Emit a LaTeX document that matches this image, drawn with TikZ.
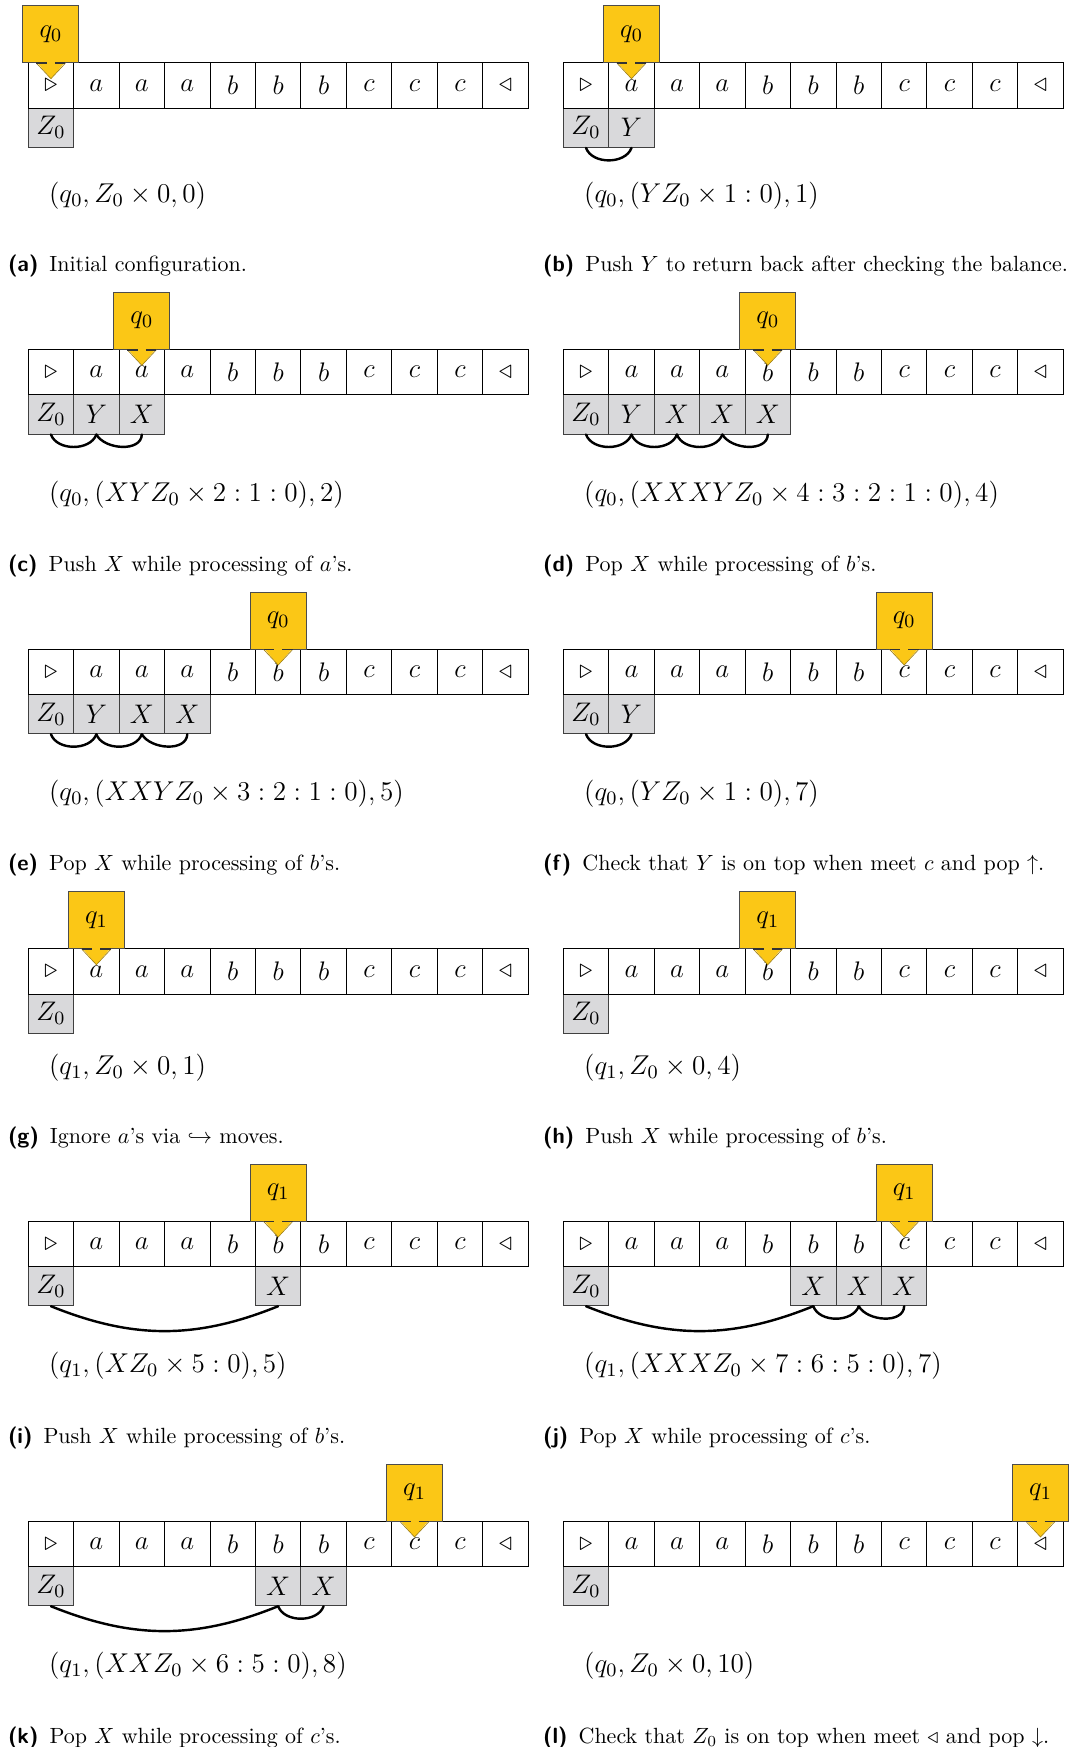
\RequirePackage{fix-cm}
\documentclass[tikz,border=0pt]{standalone}
\usetikzlibrary{calc}
\definecolor{headyellow}{RGB}{251,199,22}
\definecolor{stackgray}{RGB}{217,217,219}
\def\xL{28.2}\def\cwL{45.45}
\def\xR{563.3}\def\cwR{45.45}
\newcommand\setside[1]{\edef\PX{\csname x#1\endcsname}\edef\PCW{\csname cw#1\endcsname}}
\tikzset{
 tapecell/.style={draw=black, line width=0.45pt, minimum width=\PCW*0.4545pt, minimum height=20.68pt, inner sep=0pt, font=\fontsize{12.2}{15}\selectfont},
 stackcell/.style={draw=black!75, fill=stackgray, line width=0.45pt, minimum width=\PCW*0.4545pt, minimum height=17.82pt, inner sep=0pt, font=\fontsize{12.2}{15}\selectfont},
 headbox/.style={draw=black!70, fill=headyellow, line width=0.45pt, minimum width=25.45pt, minimum height=25.9pt, inner sep=0pt, font=\fontsize{12.2}{15}\selectfont},
 tipedge/.style={draw=headyellow!65!black, line width=0.3pt},
 headseg/.style={draw=black!80, line width=0.9pt},
 link/.style={draw=black, line width=1.1pt, line cap=round},
 cfgnode/.style={anchor=west, inner sep=0pt, font=\fontsize{12.35}{15}\selectfont},
 capnode/.style={anchor=base west, inner sep=0pt},
}
\newcommand\PTape[2]{%
  \foreach \s [count=\i from 0] in {\triangleright,a,a,a,b,b,b,c,c,c,\triangleleft}
    \node[tapecell] (#1t\i) at ({\PX+(\i+0.5)*\PCW}, {-(#2+22.75)}) {$\s$};
}
\newcommand\PStk[4]{%
  \node[stackcell] (#1s#3) at ({\PX+(#3+0.5)*\PCW}, {-(#2+65.1)}) {$#4$};
}
\newcommand\PHead[4]{%
  \node[headbox] (#1h) at ({\PX+(#3+0.5)*\PCW}, {-(#2-28.5)}) {$#4$};
  \fill[headyellow] ($(#1h.south)+(-14.5,1.5)$) -- ($(#1h.south)+(14.5,1.5)$) -- ($(#1h.south)+(0,-15.5)$) -- cycle;
  \draw[tipedge] ($(#1h.south)+(-14.5,0)$) -- ($(#1h.south)+(0,-15.5)$) -- ($(#1h.south)+(14.5,0)$);
  \draw[headseg] ($(#1h.south)+(-14.5,0)$) -- ($(#1h.south)+(-4,0)$) ($(#1h.south)+(4,0)$) -- ($(#1h.south)+(14.5,0)$);
}
\newcommand\PCfg[3]{\node[cfgnode] (#1c) at ({\PX+20.5}, {-#2}) {$#3$};}
\newcommand\PCap[4]{\node[capnode] (#1cap) at ({\PX-20.6}, {-#2}) {\textsf{\textbf{#3}}\hspace{5pt}#4};}
\newcommand\PLink[2]{\draw[link] (#1.south) to[out=-70,in=-110] (#2.south);}
\newcommand\PHook[2]{\draw[link] (#1.south) to[out=-60,in=-92] (#2.south);}
\newcommand\PBig[2]{\draw[link] (#1.south) to[out=-22,in=-158] (#2.south);}
\begin{document}
\begin{tikzpicture}[x=0.4545pt,y=0.4545pt]
\useasboundingbox (0,0) rectangle (1075,-1747);
\fill[white] (0,0) rectangle (1075,-1747);

% (a)
\setside{L}
\PStk{a}{62.7}{0}{Z_0}
\PTape{a}{62.7}
\PHead{a}{62.7}{0}{q_0}
\PCfg{a}{196}{\bigl(q_0, Z_0 \times 0, 0\bigr)}
\PCap{a}{271.5}{(a)}{Initial configuration.}

% (b)
\setside{R}
\PStk{b}{62.7}{0}{Z_0}
\PStk{b}{62.7}{1}{Y}
\PTape{b}{62.7}
\PHead{b}{62.7}{1}{q_0}
\PLink{bs0}{bs1}
\PCfg{b}{196}{\bigl(q_0, (YZ_0 \times 1 : 0), 1\bigr)}
\PCap{b}{271.5}{(b)}{Push $Y$ to return back after checking the balance.}

% (c)
\setside{L}
\PStk{c}{349.3}{0}{Z_0}
\PStk{c}{349.3}{1}{Y}
\PStk{c}{349.3}{2}{X}
\PTape{c}{349.3}
\PHead{c}{349.3}{2}{q_0}
\PLink{cs0}{cs1}
\PHook{cs1}{cs2}
\PCfg{c}{494.7}{\bigl(q_0, (XYZ_0 \times 2 : 1 : 0), 2\bigr)}
\PCap{c}{571}{(c)}{Push $X$ while processing of $a$'s.}

% (d)
\setside{R}
\PStk{d}{349.3}{0}{Z_0}
\PStk{d}{349.3}{1}{Y}
\PStk{d}{349.3}{2}{X}
\PStk{d}{349.3}{3}{X}
\PStk{d}{349.3}{4}{X}
\PTape{d}{349.3}
\PHead{d}{349.3}{4}{q_0}
\PLink{ds0}{ds1}
\PLink{ds1}{ds2}
\PLink{ds2}{ds3}
\PHook{ds3}{ds4}
\PCfg{d}{494.7}{\bigl(q_0, (XXXYZ_0 \times 4 : 3 : 2 : 1 : 0), 4\bigr)}
\PCap{d}{571}{(d)}{Pop $X$ while processing of $b$'s.}

% (e)
\setside{L}
\PStk{e}{649}{0}{Z_0}
\PStk{e}{649}{1}{Y}
\PStk{e}{649}{2}{X}
\PStk{e}{649}{3}{X}
\PTape{e}{649}
\PHead{e}{649}{5}{q_0}
\PLink{es0}{es1}
\PLink{es1}{es2}
\PHook{es2}{es3}
\PCfg{e}{793.8}{\bigl(q_0, (XXYZ_0 \times 3 : 2 : 1 : 0), 5\bigr)}
\PCap{e}{870}{(e)}{Pop $X$ while processing of $b$'s.}

% (f)
\setside{R}
\PStk{f}{649}{0}{Z_0}
\PStk{f}{649}{1}{Y}
\PTape{f}{649}
\PHead{f}{649}{7}{q_0}
\PLink{fs0}{fs1}
\PCfg{f}{793.8}{\bigl(q_0, (YZ_0 \times 1 : 0), 7\bigr)}
\PCap{f}{870}{(f)}{Check that $Y$ is on top when meet $c$ and pop $\uparrow$.}

% (g)
\setside{L}
\PStk{g}{948.7}{0}{Z_0}
\PTape{g}{948.7}
\PHead{g}{948.7}{1}{q_1}
\PCfg{g}{1067.7}{\bigl(q_1, Z_0 \times 0, 1\bigr)}
\PCap{g}{1143.3}{(g)}{Ignore $a$'s via $\hookrightarrow$ moves.}

% (h)
\setside{R}
\PStk{h}{948.7}{0}{Z_0}
\PTape{h}{948.7}
\PHead{h}{948.7}{4}{q_1}
\PCfg{h}{1067.7}{\bigl(q_1, Z_0 \times 0, 4\bigr)}
\PCap{h}{1143.3}{(h)}{Push $X$ while processing of $b$'s.}

% (i)
\setside{L}
\PStk{i}{1221}{0}{Z_0}
\PStk{i}{1221}{5}{X}
\PTape{i}{1221}
\PHead{i}{1221}{5}{q_1}
\PBig{is0}{is5}
\PCfg{i}{1365.8}{\bigl(q_1, (XZ_0 \times 5 : 0), 5\bigr)}
\PCap{i}{1443.3}{(i)}{Push $X$ while processing of $b$'s.}

% (j)
\setside{R}
\PStk{j}{1221}{0}{Z_0}
\PStk{j}{1221}{5}{X}
\PStk{j}{1221}{6}{X}
\PStk{j}{1221}{7}{X}
\PTape{j}{1221}
\PHead{j}{1221}{7}{q_1}
\PBig{js0}{js5}
\PLink{js5}{js6}
\PHook{js6}{js7}
\PCfg{j}{1365.8}{\bigl(q_1, (XXXZ_0 \times 7 : 6 : 5 : 0), 7\bigr)}
\PCap{j}{1443.3}{(j)}{Pop $X$ while processing of $c$'s.}

% (k)
\setside{L}
\PStk{k}{1521}{0}{Z_0}
\PStk{k}{1521}{5}{X}
\PStk{k}{1521}{6}{X}
\PTape{k}{1521}
\PHead{k}{1521}{8}{q_1}
\PBig{ks0}{ks5}
\PLink{ks5}{ks6}
\PCfg{k}{1665.8}{\bigl(q_1, (XXZ_0 \times 6 : 5 : 0), 8\bigr)}
\PCap{k}{1743.3}{(k)}{Pop $X$ while processing of $c$'s.}

% (l)
\setside{R}
\PStk{l}{1521}{0}{Z_0}
\PTape{l}{1521}
\PHead{l}{1521}{10}{q_1}
\PCfg{l}{1665.8}{\bigl(q_0, Z_0 \times 0, 10\bigr)}
\PCap{l}{1743.3}{(l)}{Check that $Z_0$ is on top when meet $\triangleleft$ and pop $\downarrow$.}
\end{tikzpicture}
\end{document}
